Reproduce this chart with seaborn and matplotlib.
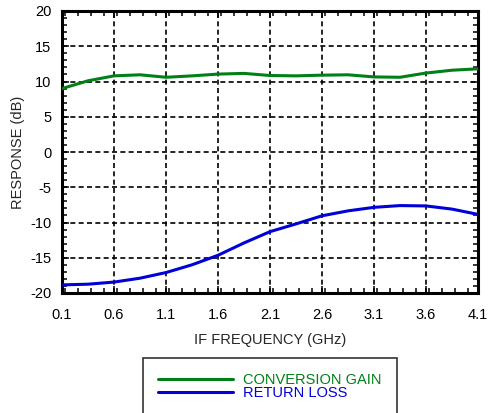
import matplotlib
matplotlib.use('Agg')
import matplotlib.pyplot as plt
from matplotlib.ticker import MultipleLocator
import pandas as pd
import seaborn as sns

# values
freq_ghz = [0.1, 0.35, 0.6, 0.85, 1.1, 1.35, 1.6, 1.85, 2.1, 2.35, 2.6, 2.85,
            3.1, 3.35, 3.6, 3.85, 4.1]
conversion_gain = [9.0, 10.1, 10.8, 10.95, 10.6, 10.8, 11.05, 11.15, 10.85, 10.8,
                   10.9, 10.95, 10.65, 10.6, 11.2, 11.6, 11.8]
return_loss = [-18.85, -18.75, -18.45, -17.9, -17.1, -16.0, -14.65, -12.9, -11.3,
               -10.2, -9.05, -8.35, -7.85, -7.6, -7.65, -8.1, -8.85]
series_names = ['CONVERSION GAIN', 'RETURN LOSS']
x_ticks = [0.1, 0.6, 1.1, 1.6, 2.1, 2.6, 3.1, 3.6, 4.1]
y_ticks = [-20, -15, -10, -5, 0, 5, 10, 15, 20]

df = pd.DataFrame({
    'freq': freq_ghz * 2,
    'value': conversion_gain + return_loss,
    'series': [series_names[0]] * len(freq_ghz) + [series_names[1]] * len(freq_ghz),
})

sns.set_style('ticks')
plt.rcParams['font.family'] = ['Liberation Sans', 'DejaVu Sans']
plt.rcParams['axes.unicode_minus'] = False

fs = 10.5
fig = plt.figure(figsize=(4.88, 4.13), dpi=100)
ax = fig.add_axes([62 / 488, 1 - 293 / 413, 416 / 488, 282 / 413])

sns.lineplot(data=df, x='freq', y='value', hue='series',
             palette={series_names[0]: '#008016', series_names[1]: '#0000d8'},
             linewidth=2.2, ax=ax, legend=False, zorder=3)

ax.set_xlim(0.1, 4.1)
ax.set_ylim(-20, 20)
ax.set_xticks(x_ticks)
ax.set_xticklabels([f'{t:.1f}' for t in x_ticks])
ax.set_yticks(y_ticks)
ax.xaxis.set_minor_locator(MultipleLocator(0.125))
ax.yaxis.set_minor_locator(MultipleLocator(1))
ax.grid(True, which='major', color='black', linestyle=(0, (3, 2)), linewidth=1.2)
ax.tick_params(which='both', direction='in', top=True, right=True,
               labelsize=fs, width=1.1, colors='black')
ax.tick_params(axis='x', which='major', pad=11)
ax.tick_params(axis='y', which='major', pad=7.5)
ax.tick_params(which='major', length=5)
ax.tick_params(which='minor', length=3.5)
for s in ax.spines.values():
    s.set_linewidth(2.2)
    s.set_color('black')

ax.set_xlabel('IF FREQUENCY (GHz)', fontsize=fs, labelpad=8)
ax.set_ylabel('RESPONSE (dB)', fontsize=fs, labelpad=4)

handles = [plt.Line2D([], [], color='#008016', linewidth=2.2),
           plt.Line2D([], [], color='#0000d8', linewidth=2.2)]
leg = fig.legend(handles, series_names, loc='upper left',
                 bbox_to_anchor=(143 / 488, 1 - 358 / 413),
                 fontsize=fs, handlelength=5.1, handletextpad=0.7,
                 labelspacing=-0.1, borderpad=1.05, borderaxespad=0,
                 frameon=True, fancybox=False, labelcolor='linecolor')
leg.get_frame().set_edgecolor('black')
leg.get_frame().set_linewidth(1.2)

fig.savefig('out.png', dpi=100)
